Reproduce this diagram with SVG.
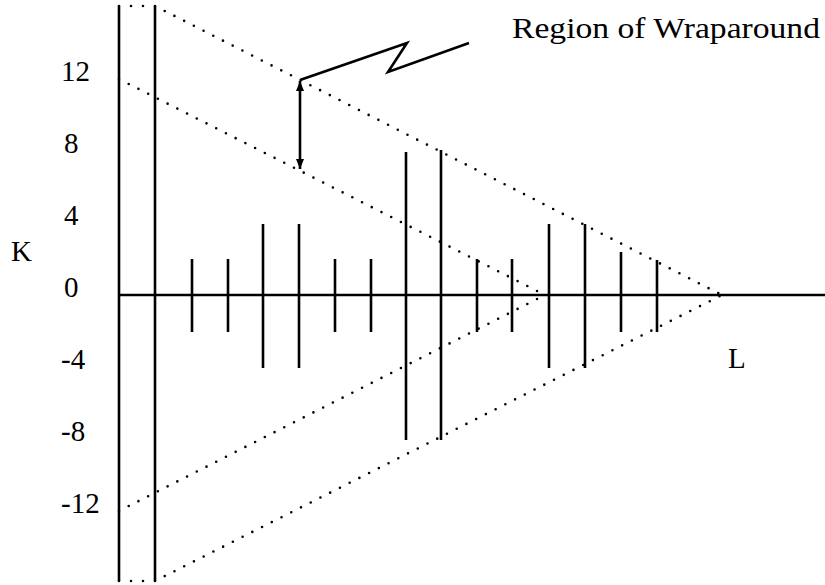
<svg xmlns="http://www.w3.org/2000/svg" width="825" height="585" viewBox="0 0 825 585">
<style>
.solid{stroke:#000;stroke-width:2.6;fill:none;stroke-linecap:butt}
.dot{stroke:#000;stroke-width:2.6;fill:none;stroke-linecap:round;stroke-dasharray:0 10.9}
.dotv{stroke:#000;stroke-width:2.6;fill:none;stroke-linecap:round;stroke-dasharray:0 12}
text{font-family:'Liberation Serif','Times New Roman','DejaVu Serif',serif;font-size:29px;fill:#000}
</style>
<defs>
<marker id="ah" viewBox="0 0 10 8" refX="10" refY="4" markerWidth="10" markerHeight="8" markerUnits="userSpaceOnUse" orient="auto">
<path d="M0,0 L10,4 L0,8 Z" fill="#000"/>
</marker>
</defs>
<g id="frame">
<line class="solid" x1="119" y1="6" x2="119" y2="581"/>
<line class="solid" x1="155" y1="6" x2="155" y2="581"/>
<line class="dotv" x1="119" y1="6" x2="155" y2="6"/>
<line class="dotv" x1="119" y1="581" x2="155" y2="581"/>
</g>
<g id="axis">
<line class="solid" x1="119" y1="295" x2="825" y2="295"/>
</g>
<g id="wrap-lines">
<line class="dot" x1="155" y1="6" x2="722" y2="295"/>
<line class="dot" x1="155" y1="581" x2="722" y2="295"/>
<line class="dot" x1="119" y1="79" x2="545" y2="295"/>
<line class="dot" x1="119" y1="511" x2="545" y2="295"/>
</g>
<g id="ticks">
<line class="solid" x1="192" y1="259" x2="192" y2="332"/>
<line class="solid" x1="228" y1="259" x2="228" y2="332"/>
<line class="solid" x1="263" y1="224" x2="263" y2="368"/>
<line class="solid" x1="299" y1="224" x2="299" y2="368"/>
<line class="solid" x1="335" y1="259" x2="335" y2="332"/>
<line class="solid" x1="371" y1="259" x2="371" y2="332"/>
<line class="solid" x1="406" y1="152" x2="406" y2="440"/>
<line class="solid" x1="441" y1="150" x2="441" y2="440"/>
<line class="solid" x1="477" y1="259" x2="477" y2="332"/>
<line class="solid" x1="512" y1="259" x2="512" y2="332"/>
<line class="solid" x1="549" y1="224" x2="549" y2="368"/>
<line class="solid" x1="585" y1="224" x2="585" y2="368"/>
<line class="solid" x1="621" y1="252" x2="621" y2="332"/>
<line class="solid" x1="657" y1="260" x2="657" y2="332"/>
</g>
<g id="connectors">
<line class="solid" x1="300" y1="125" x2="300" y2="81" marker-end="url(#ah)"/>
<line class="solid" x1="300" y1="125" x2="300" y2="169" marker-end="url(#ah)"/>
<polyline class="solid" points="300,80 407,43 388,72 469,43"/>
</g>
<g id="label-region">
<text x="512" y="38" textLength="308" lengthAdjust="spacingAndGlyphs">Region of Wraparound</text>
</g>
<g id="labels">
<text x="11" y="261">K</text>
<text x="728" y="368">L</text>
<text x="61" y="81">12</text>
<text x="64" y="153">8</text>
<text x="64" y="225">4</text>
<text x="64" y="297">0</text>
<text x="61" y="369">-4</text>
<text x="61" y="441">-8</text>
<text x="61" y="513">-12</text>
</g>
</svg>
